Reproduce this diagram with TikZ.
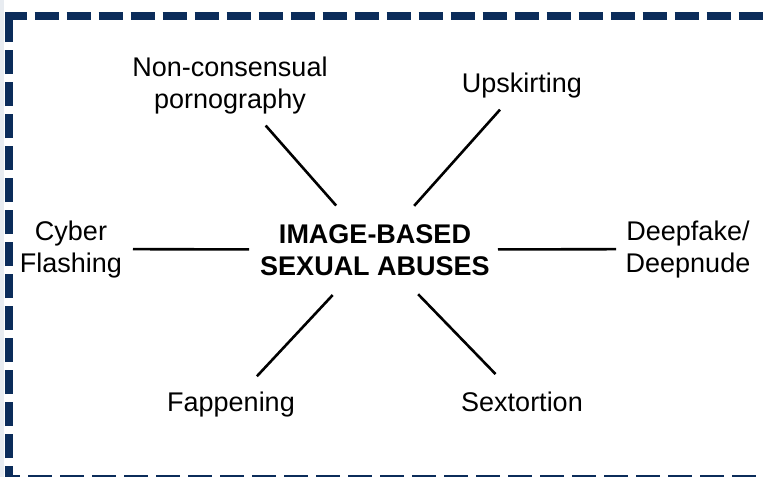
\documentclass[tikz,border=0pt]{standalone}
\usepackage{fontspec}
\setmainfont{Liberation Sans}
\definecolor{framenavy}{HTML}{0B2C5A}
\definecolor{stripgray}{HTML}{E8ECF1}

\begin{document}
\begin{tikzpicture}[
		x=1pt, y=-1pt,
		every node/.style={font=\fontsize{27}{32}\selectfont, align=center, inner sep=0pt, anchor=base},
		hub/.style={font=\fontsize{27}{32}\selectfont\bfseries},
		spoke/.style={draw, line width=2.6pt},
		frame/.style={draw=framenavy, line width=8pt, dash pattern=on 24pt off 8pt}
	]
	\useasboundingbox (0,0) rectangle (764,477);
	\clip (0,0) rectangle (764,477);
	\fill[stripgray] (0,0) rectangle (4,477);
	\draw[frame] (8.5,22) -- (8.5,16) -- (772,16) -- (772,478.5) -- (8.5,478.5) -- cycle;

	% multi-line nodes sit on the baseline of their last line
	\node[hub] (Abuses) at (375,275) {IMAGE-BASED\\SEXUAL ABUSES};
	\node (NonConsensual) at (230,108) {Non-consensual\\pornography};
	\node (Upskirting) at (522,92) {Upskirting};
	\node (CyberFlashing) at (71,272) {Cyber\\Flashing};
	\node (Deepfake) at (688,272) {Deepfake/\\Deepnude};
	\node (Fappening) at (231,411) {Fappening};
	\node (Sextortion) at (522,411) {Sextortion};

	% spokes from the hub
	\draw[spoke, shorten <=58.8pt, shorten >=54pt] (Abuses.center) -- (NonConsensual.center);
	\draw[spoke, shorten <=58.8pt, shorten >=33pt] (Abuses.center) -- (Upskirting.center);
	\draw[spoke, shorten <=126pt, shorten >=62pt] (Abuses.center) -- (CyberFlashing.center);
	\draw[spoke, shorten <=123pt, shorten >=72pt] (Abuses.center) -- (Deepfake.center);
	\draw[spoke, shorten <=62pt, shorten >=38pt] (Abuses.center) -- (Fappening.center);
	\draw[spoke, shorten <=62pt, shorten >=38pt] (Abuses.center) -- (Sextortion.center);

\end{tikzpicture}
\end{document}
